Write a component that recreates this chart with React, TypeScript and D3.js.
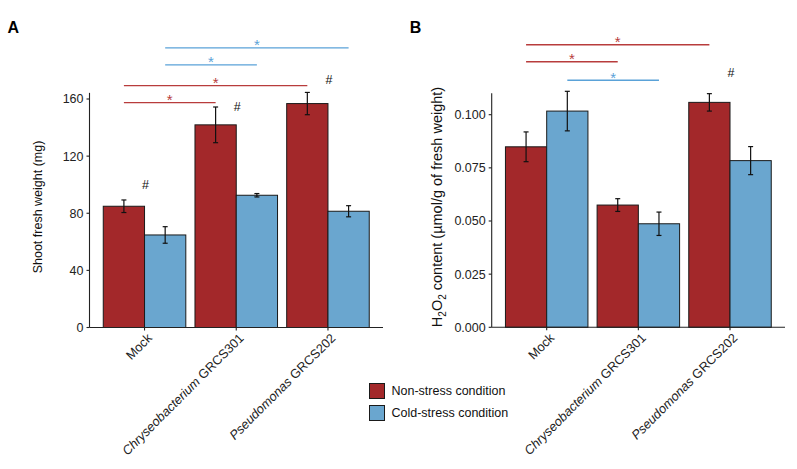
import React from 'react';
import * as d3 from 'd3';

// groups on the x axis (italic genus part + plain strain part)
const groups = ['Mock', 'Chryseobacterium GRCS301', 'Pseudomonas GRCS202'];
const groupItalic = ['', 'Chryseobacterium', 'Pseudomonas'];
const groupPlain = ['Mock', ' GRCS301', ' GRCS202'];
const conditions = ['Non-stress condition', 'Cold-stress condition'];
const condColors = ['#a3282a', '#6aa6cf'];
const sigColors = ['#b83c3c', '#5aa2d8'];

// panel A: shoot fresh weight (mg)
const weightNon = [84.9, 141.9, 156.8];
const weightNonErr = [4.4, 12.5, 7.8];
const weightCold = [64.8, 92.6, 81.4];
const weightColdErr = [5.8, 1.2, 3.9];
const weightTicks = [0, 40, 80, 120, 160];
// significance lines: from group, to group, condition, height
const weightSig = [
  { from: 0, to: 1, cond: 0, y: 157.5 },
  { from: 0, to: 2, cond: 0, y: 169.4 },
  { from: 0, to: 1, cond: 1, y: 183.9 },
  { from: 0, to: 2, cond: 1, y: 195.8 },
];
const weightHash = [
  { g: 0, y: 100 },
  { g: 1, y: 154.7 },
  { g: 2, y: 173.4 },
];

// panel B: H2O2 content
const h2o2Non = [0.0849, 0.0575, 0.1058];
const h2o2NonErr = [0.007, 0.003, 0.0041];
const h2o2Cold = [0.1017, 0.0487, 0.0784];
const h2o2ColdErr = [0.0093, 0.0055, 0.0066];
const h2o2Ticks = [0, 0.025, 0.05, 0.075, 0.1];
const h2o2Sig = [
  { from: 0, to: 1, cond: 1, y: 0.1162 },
  { from: 0, to: 1, cond: 0, y: 0.1249 },
  { from: 0, to: 2, cond: 0, y: 0.1329 },
];
const h2o2Hash = [{ g: 2, y: 0.1198 }];

const FONT = '"Liberation Sans", Arial, sans-serif';

const Panel = ({ letter, x0, x1, yDomain, yRange, yTop, ticks, fmt, non, nonErr, cold, coldErr, sig, hash, yLabel, labelX, labelSize }) => {
  const x = d3.scaleBand().domain(groups).range([x0, x1]).paddingInner(0.1).paddingOuter(0.15);
  const sub = d3.scaleBand().domain(['0', '1']).range([0, x.bandwidth()]);
  const y = d3.scaleLinear().domain(yDomain).range(yRange);
  const vals = [non, cold];
  const errs = [nonErr, coldErr];
  const barX = (g, c) => x(groups[g]) + sub(String(c));
  const barMid = (g, c) => barX(g, c) + sub.bandwidth() / 2;
  const base = y(0);

  return (
    <g>
      <text x={x0 - 82} y={33} fontSize={16} fontWeight="bold" fontFamily={FONT}>{letter}</text>
      {/* bars */}
      {groups.map((gName, g) =>
        [0, 1].map(c => (
          <rect key={gName + c} x={barX(g, c)} y={y(vals[c][g])} width={sub.bandwidth()}
            height={base - y(vals[c][g])} fill={condColors[c]} stroke="#1a1a1a" strokeWidth={1} />
        ))
      )}
      {/* error bars */}
      {groups.map((gName, g) =>
        [0, 1].map(c => {
          const m = barMid(g, c);
          const hi = y(vals[c][g] + errs[c][g]);
          const lo = y(vals[c][g] - errs[c][g]);
          return (
            <g key={'e' + gName + c} stroke="#111" strokeWidth={1.2}>
              <line x1={m} x2={m} y1={hi} y2={lo} />
              <line x1={m - 2.5} x2={m + 2.5} y1={hi} y2={hi} />
              <line x1={m - 2.5} x2={m + 2.5} y1={lo} y2={lo} />
            </g>
          );
        })
      )}
      {/* axes */}
      <line x1={x0} x2={x0} y1={y(yTop)} y2={base} stroke="#222" strokeWidth={1.1} />
      <line x1={x0} x2={x1} y1={base} y2={base} stroke="#222" strokeWidth={1.1} />
      {ticks.map(t => (
        <g key={t}>
          <line x1={x0 - 3} x2={x0} y1={y(t)} y2={y(t)} stroke="#222" strokeWidth={1.1} />
          <text x={x0 - 6} y={y(t)} dy="0.35em" textAnchor="end" fontSize={12.5} fill="#222" fontFamily={FONT}>{fmt(t)}</text>
        </g>
      ))}
      {groups.map((gName, g) => {
        const cx = x(gName) + x.bandwidth() / 2;
        return (
          <g key={'t' + gName}>
            <line x1={cx} x2={cx} y1={base} y2={base + 3} stroke="#222" strokeWidth={1.1} />
            <text transform={`translate(${cx + 2},${base + 5}) rotate(-45)`} textAnchor="end" dy="0.7em"
              fontSize={12.8} fill="#222" fontFamily={FONT}>
              {groupItalic[g] ? <tspan fontStyle="italic">{groupItalic[g]}</tspan> : null}
              <tspan>{groupPlain[g]}</tspan>
            </text>
          </g>
        );
      })}
      <text transform={`translate(${labelX},207) rotate(-90)`} textAnchor="middle" fontSize={labelSize} fill="#111" fontFamily={FONT}>
        {yLabel}
      </text>
      {/* significance */}
      {sig.map((s, i) => {
        const a = barMid(s.from, s.cond);
        const b = barMid(s.to, s.cond);
        return (
          <g key={'s' + i}>
            <line x1={a} x2={b} y1={y(s.y)} y2={y(s.y)} stroke={sigColors[s.cond]} strokeWidth={1.3} />
            <text x={(a + b) / 2} y={y(s.y) + 2.5} textAnchor="middle" fontSize={15} fill={sigColors[s.cond]} fontFamily={FONT}>*</text>
          </g>
        );
      })}
      {hash.map((h, i) => (
        <text key={'h' + i} x={x(groups[h.g]) + x.bandwidth() / 2 + 1} y={y(h.y)} dy="0.35em" textAnchor="middle"
          fontSize={12.5} fill="#111" fontFamily={FONT}>#</text>
      ))}
    </g>
  );
};

const App = () => {
  return (
    <svg width={797} height={469} style={{ position: 'absolute', left: 0, top: 0, background: '#fff' }}>
      <Panel letter="A" x0={89.5} x1={383} yDomain={[0, 160]} yRange={[327.5, 99]} yTop={164.3}
        ticks={weightTicks} fmt={d => String(d)} non={weightNon} nonErr={weightNonErr}
        cold={weightCold} coldErr={weightColdErr} sig={weightSig} hash={weightHash}
        yLabel="Shoot fresh weight (mg)" labelX={41.5} labelSize={12.5} />
      <Panel letter="B" x0={491.7} x1={785} yDomain={[0, 0.1]} yRange={[327.3, 114.7]} yTop={0.1101}
        ticks={h2o2Ticks} fmt={d => d3.format('.3f')(d)} non={h2o2Non} nonErr={h2o2NonErr}
        cold={h2o2Cold} coldErr={h2o2ColdErr} sig={h2o2Sig} hash={h2o2Hash}
        labelX={442} labelSize={14.5}
        yLabel={<>H<tspan fontSize={10} dy={3.5}>2</tspan><tspan dy={-3.5}>O</tspan><tspan fontSize={10} dy={3.5}>2</tspan><tspan dy={-3.5}> content (µmol/g of fresh weight)</tspan></>} />
      {/* legend */}
      {conditions.map((c, i) => (
        <g key={c} transform={`translate(369.5,${383.5 + i * 22})`}>
          <rect width={15} height={15} fill={condColors[i]} stroke="#1a1a1a" strokeWidth={1} />
          <text x={22} y={7.5} dy="0.35em" fontSize={12.5} fill="#111" fontFamily={FONT}>{c}</text>
        </g>
      ))}
    </svg>
  );
};

export default App;
